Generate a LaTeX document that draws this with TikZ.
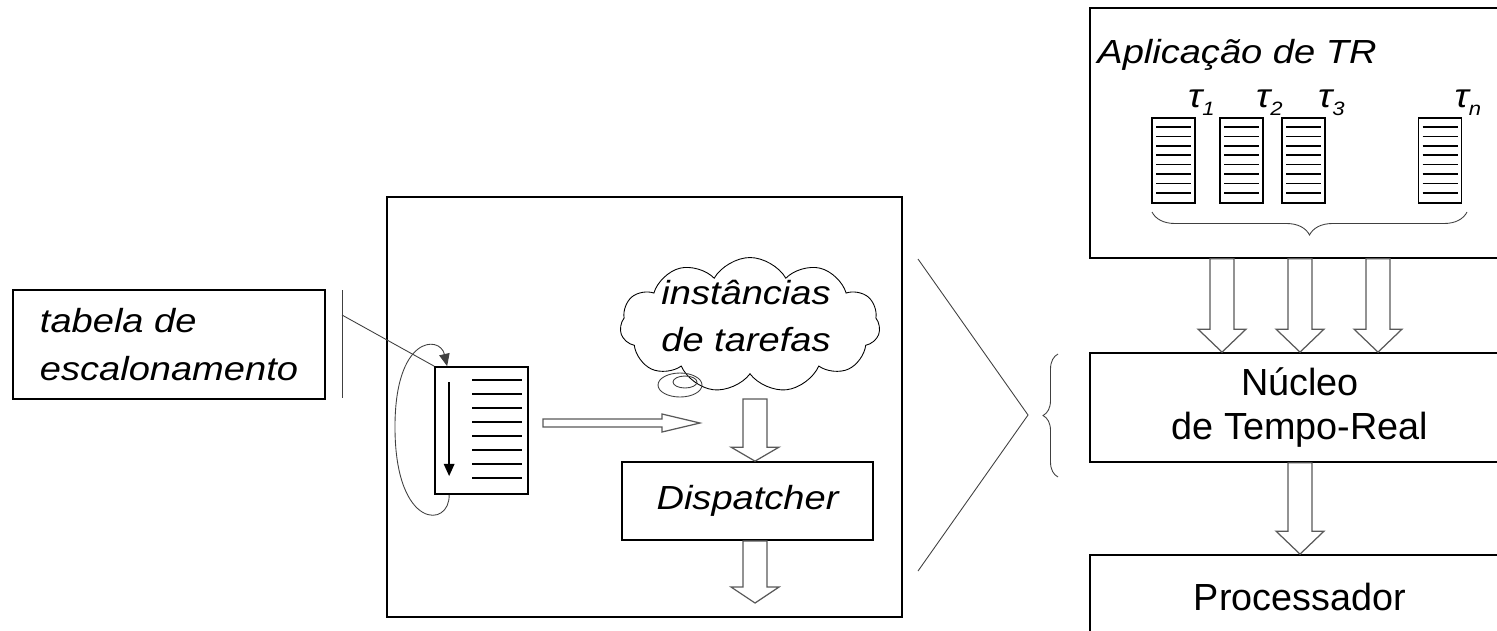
\documentclass[tikz,border=0pt]{standalone}
\usepackage{fontspec}
\setmainfont{Liberation Sans}
\newfontfamily\wideit[FakeStretch=1.14]{Liberation Sans}
\usetikzlibrary{positioning, shapes.symbols, decorations.pathreplacing, arrows.meta}

\newlength\px
\setlength\px{0.02cm}
\newcommand{\itlabel}{\wideit\itshape\fontsize{19}{27}\selectfont}
\newcommand{\uplabel}{\fontsize{21.5}{25.5}\selectfont}
\newcommand{\tsub}[1]{τ\raisebox{-5pt}{\fontsize{11}{11}\selectfont #1}}

% hollow arrow pointing down: #1 head length (px), #2 start, #3 tip
\newcommand{\fatdown}[3]{%
  \draw[fatarrow] ([xshift=-12*\px]#2) -- ([xshift=-12*\px, yshift=#1*\px]#3)
    -- ([xshift=-24*\px, yshift=#1*\px]#3) -- (#3)
    -- ([xshift=24*\px, yshift=#1*\px]#3) -- ([xshift=12*\px, yshift=#1*\px]#3)
    -- ([xshift=12*\px]#2) -- cycle;}

\begin{document}
\begin{tikzpicture}[x=0.02cm, y=-0.02cm,
    box/.style={draw, line width=1pt, rectangle, inner sep=0pt},
    fatarrow/.style={draw=black!65, line width=0.7pt, fill=white},
    thinline/.style={draw=black!75, line width=0.5pt},
    tip/.style={-{Triangle[length=7pt, width=6pt]}},
    taskdoc/.style={box, minimum width=0.86cm, minimum height=1.7cm,
      path picture={\foreach \k in {0,...,7}
        \draw[line width=1pt] ([shift={(4,9+\k*9.4)}]path picture bounding box.north west) -- ++(35,0);}}]
    \clip (0,0) rectangle (1497,630);

    % Tabela de escalonamento
    \node[box, minimum width=6.24cm, minimum height=2.18cm, align=left, font=\itlabel] (tab) at (169,344.5) {tabela de\\escalonamento};
    \coordinate (bartop) at (342,290);
    \coordinate (barbot) at (342,398);
    \coordinate (barmark) at (342,315);
    \draw[thinline] (bartop) -- (barbot);

    % Escalonador
    \node[box, minimum width=10.3cm, minimum height=8.4cm] (sched) at (644.5,407) {};
    \node[box, minimum width=1.86cm, minimum height=2.54cm] (doc) at (481.5,430.5) {};
    \foreach \k in {0,...,7}
        \draw[line width=1pt] ([shift={(38,14+\k*14)}]doc.north west) -- ++(50,0);
    \draw[line width=1pt, tip] ([shift={(15,16)}]doc.north west) -- ([shift={(15,110)}]doc.north west);
    \draw[thinline] (barmark) -- (doc.north west);
    \draw[thinline, tip] ([xshift=15*\px]doc.south west) .. controls (450,528) and (396,530) .. (395,430)
        .. controls (394,335) and (440,335) .. ([xshift=13*\px]doc.north west);

    \node[cloud, draw, line width=0.5pt, cloud puffs=11, cloud puff arc=120, aspect=2,
          minimum width=5.2cm, minimum height=2.7cm, inner sep=0pt] (cloud) at (750,325) {};
    \node[align=center, font=\itlabel, inner sep=0pt] (inst) at (746,316) {instâncias\\de tarefas};
    \draw[thinline] (680,385) ellipse [x radius=22, y radius=12];
    \draw[thinline] (685,382) ellipse [x radius=12, y radius=6];

    \node[box, minimum width=5.02cm, minimum height=1.56cm, font=\itlabel] (disp) at (747.5,501) {Dispatcher};

    % Setas largas
    \coordinate (hs) at (543,423);
    \coordinate (ht) at (700,423);
    \draw[fatarrow] ([yshift=4*\px]hs) -- ([xshift=-38*\px, yshift=4*\px]ht)
        -- ([xshift=-38*\px, yshift=9*\px]ht) -- (ht) -- ([xshift=-38*\px, yshift=-9*\px]ht)
        -- ([xshift=-38*\px, yshift=-4*\px]ht) -- ([yshift=-4*\px]hs) -- cycle;
    \coordinate (cs) at (755,399);
    \fatdown{14}{cs}{disp.north -| cs}
    \coordinate (dend) at (755,603);
    \fatdown{16}{disp.south -| dend}{dend}

    % Sinal de ampliacao
    \draw[thinline] (918,259) -- (1028,415) -- (918,571);

    % Aplicacao de TR
    \node[box, minimum width=8.4cm, minimum height=5cm] (app) at (1300,133) {};
    \node[anchor=base west, inner sep=0pt, font=\itlabel] (apptitle) at (1097,63) {Aplicação de TR};
    \node[taskdoc] (t1) at (1173.5,160.5) {};
    \node[taskdoc] (t2) at (1241.5,160.5) {};
    \node[taskdoc] (t3) at (1303.5,160.5) {};
    \node[taskdoc] (tn) at (1440,160.5) {};
    \foreach \t/\s in {t1/1, t2/2, t3/3, tn/n}
        \node[anchor=base west, inner sep=0pt, font=\itlabel] (l\t) at ([shift={(-8,-10)}]\t.north east) {\tsub{\s}};
    \draw[thinline, decorate, decoration={brace, mirror, amplitude=0.46cm}] (1152,212) -- (1467,212);

    % Nucleo e processador
    \node[box, minimum width=8.4cm, minimum height=2.18cm, align=center, font=\uplabel] (kernel) at (1300,407.5) {Núcleo\\de Tempo-Real};
    \node[box, minimum width=8.4cm, minimum height=1.68cm, font=\uplabel] (cpu) at (1300,597) {Processador};
    \draw[thinline, decorate, decoration={brace, mirror, amplitude=0.3cm}] (1058,354) -- (1058,477);

    \foreach \x in {1222,1300,1378} {
        \coordinate (ax) at (\x,0);
        \fatdown{23}{app.south -| ax}{kernel.north -| ax}
    }
    \fatdown{23}{kernel.south}{cpu.north}
\end{tikzpicture}
\end{document}
